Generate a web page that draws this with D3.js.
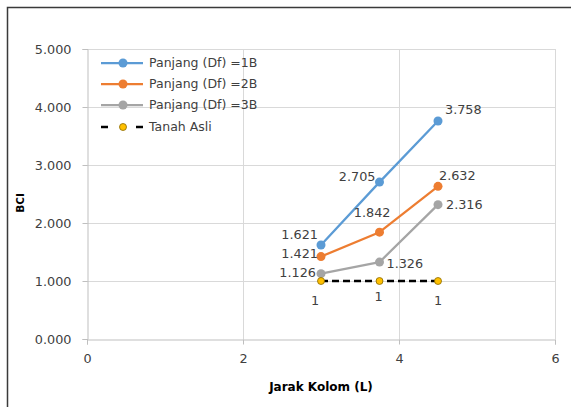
<!DOCTYPE html>
<html>
<head>
<meta charset="utf-8">
<script src="https://cdn.jsdelivr.net/npm/d3@7"></script>
<style>
  html, body { margin: 0; padding: 0; background: #fff; }
  svg { display: block; font-family: "DejaVu Sans", Verdana, sans-serif; }
</style>
</head>
<body>
<svg id="chart" width="571" height="407"></svg>
<script>
// Column spacing (L) on the x axis
const jarak = [3, 3.75, 4.5];
// BCI per pile length
const bci1B = [1.621, 2.705, 3.758];
const bci2B = [1.421, 1.842, 2.632];
const bci3B = [1.126, 1.326, 2.316];
const tanahAsli = [1, 1, 1];
const seriesNames = ["Panjang (Df) =1B", "Panjang (Df) =2B", "Panjang (Df) =3B", "Tanah Asli"];
const xTicks = [0, 2, 4, 6];
const yTicks = [0, 1, 2, 3, 4, 5];

const svg = d3.select("#chart");
const W = 571, H = 407;
const plot = { left: 87, right: 555, top: 49, bottom: 339 };
const numSize = 12.8;

const x = d3.scaleLinear().domain([0, 6]).range([plot.left, plot.right]);
const y = d3.scaleLinear().domain([0, 5]).range([plot.bottom, plot.top]);

// outer frame (left and top edges)
svg.append("path")
  .attr("d", `M7.5,${H} L7.5,7.5 L${W},7.5`)
  .attr("fill", "none").attr("stroke", "#3a3a3a").attr("stroke-width", 1.5);

// gridlines
const grid = svg.append("g");
grid.selectAll(".gy").data(yTicks.filter(d => d > 0)).join("line")
  .attr("x1", plot.left).attr("x2", plot.right)
  .attr("y1", d => Math.round(y(d)) + 0.5).attr("y2", d => Math.round(y(d)) + 0.5)
  .attr("stroke", "#d9d9d9");
grid.selectAll(".gx").data(xTicks.filter(d => d > 0)).join("line")
  .attr("y1", plot.top).attr("y2", plot.bottom)
  .attr("x1", d => Math.round(x(d)) + 0.5).attr("x2", d => Math.round(x(d)) + 0.5)
  .attr("stroke", "#d9d9d9");

// axes
const yAxis = svg.append("g")
  .attr("transform", `translate(${plot.left + 0.5},0)`)
  .call(d3.axisLeft(y).tickValues(yTicks).tickFormat(d3.format(".3f")).tickSizeOuter(0).tickSize(5).tickPadding(11));
const xAxis = svg.append("g")
  .attr("transform", `translate(0,${plot.bottom + 0.5})`)
  .call(d3.axisBottom(x).tickValues(xTicks).tickFormat(d3.format("d")).tickSizeOuter(0).tickSize(5).tickPadding(9));
[yAxis, xAxis].forEach(a => {
  a.select(".domain").attr("stroke", "#bfbfbf");
  a.selectAll(".tick line").attr("stroke", "#bfbfbf");
  a.selectAll(".tick text").attr("fill", "#404040").attr("font-size", numSize)
    .attr("font-family", "DejaVu Sans, sans-serif");
});

// axis titles
svg.append("text")
  .attr("x", x(3)).attr("y", 391)
  .attr("text-anchor", "middle").attr("font-weight", "bold").attr("font-size", 12)
  .attr("fill", "#000").text("Jarak Kolom (L)");
svg.append("text")
  .attr("transform", `translate(24,203) rotate(-90)`)
  .attr("text-anchor", "middle").attr("font-weight", "bold").attr("font-size", 10.5)
  .attr("fill", "#000").text("BCI");

const line = d3.line().x((d, i) => x(jarak[i])).y(d => y(d));

const series = [
  { name: seriesNames[0], values: bci1B, color: "#5b9bd5",
    labels: [[-3, -10, "end"], [-4, -6, "end"], [7, -12, "start"]] },
  { name: seriesNames[1], values: bci2B, color: "#ed7d31",
    labels: [[-3, -3, "end"], [11, -20, "end"], [1, -11, "start"]] },
  { name: seriesNames[2], values: bci3B, color: "#a5a5a5",
    labels: [[-5, -1, "end"], [7, 1, "start"], [8, 0, "start"]] }
];

series.forEach(s => {
  const g = svg.append("g");
  g.append("path").attr("d", line(s.values))
    .attr("fill", "none").attr("stroke", s.color).attr("stroke-width", 2.25)
    .attr("stroke-linejoin", "round");
  g.selectAll("circle").data(s.values).join("circle")
    .attr("cx", (d, i) => x(jarak[i])).attr("cy", d => y(d)).attr("r", 4.5)
    .attr("fill", s.color);
  g.selectAll("text").data(s.values).join("text")
    .attr("x", (d, i) => x(jarak[i]) + s.labels[i][0])
    .attr("y", (d, i) => y(d) + s.labels[i][1])
    .attr("dy", "0.35em")
    .attr("text-anchor", (d, i) => s.labels[i][2])
    .attr("font-size", numSize).attr("fill", "#404040")
    .text(d => d3.format(".3f")(d));
});

// original soil (Tanah Asli) baseline
const gT = svg.append("g");
gT.append("path").attr("d", line(tanahAsli))
  .attr("fill", "none").attr("stroke", "#000").attr("stroke-width", 2.5)
  .attr("stroke-dasharray", "7,4");
gT.selectAll("circle").data(tanahAsli).join("circle")
  .attr("cx", (d, i) => x(jarak[i])).attr("cy", d => y(d)).attr("r", 3.5)
  .attr("fill", "#ffc000").attr("stroke", "#8a6a00").attr("stroke-width", 0.8);
const tOff = [[-6, 20], [-1, 16], [0, 20]];
gT.selectAll("text").data(tanahAsli).join("text")
  .attr("x", (d, i) => x(jarak[i]) + tOff[i][0])
  .attr("y", (d, i) => y(d) + tOff[i][1])
  .attr("dy", "0.35em").attr("text-anchor", "middle")
  .attr("font-size", numSize).attr("fill", "#404040")
  .text(d => d3.format("d")(d));

// legend
const legend = svg.append("g");
const legY = [63, 84, 105, 127];
series.forEach((s, i) => {
  const r = legend.append("g").attr("transform", `translate(0,${legY[i]})`);
  r.append("line").attr("x1", 101).attr("x2", 143).attr("stroke", s.color).attr("stroke-width", 2.25);
  r.append("circle").attr("cx", 123).attr("r", 4.5).attr("fill", s.color);
  r.append("text").attr("x", 149).attr("dy", "0.35em").attr("font-size", 12.5)
    .attr("fill", "#404040").text(s.name);
});
{
  const r = legend.append("g").attr("transform", `translate(0,${legY[3]})`);
  [[101, 108], [136, 143]].forEach(([a, b]) =>
    r.append("line").attr("x1", a).attr("x2", b).attr("stroke", "#000").attr("stroke-width", 2.5));
  r.append("circle").attr("cx", 123).attr("r", 3.5).attr("fill", "#ffc000")
    .attr("stroke", "#8a6a00").attr("stroke-width", 0.8);
  r.append("text").attr("x", 149).attr("dy", "0.35em").attr("font-size", 12.5)
    .attr("fill", "#404040").text(seriesNames[3]);
}
</script>
</body>
</html>
